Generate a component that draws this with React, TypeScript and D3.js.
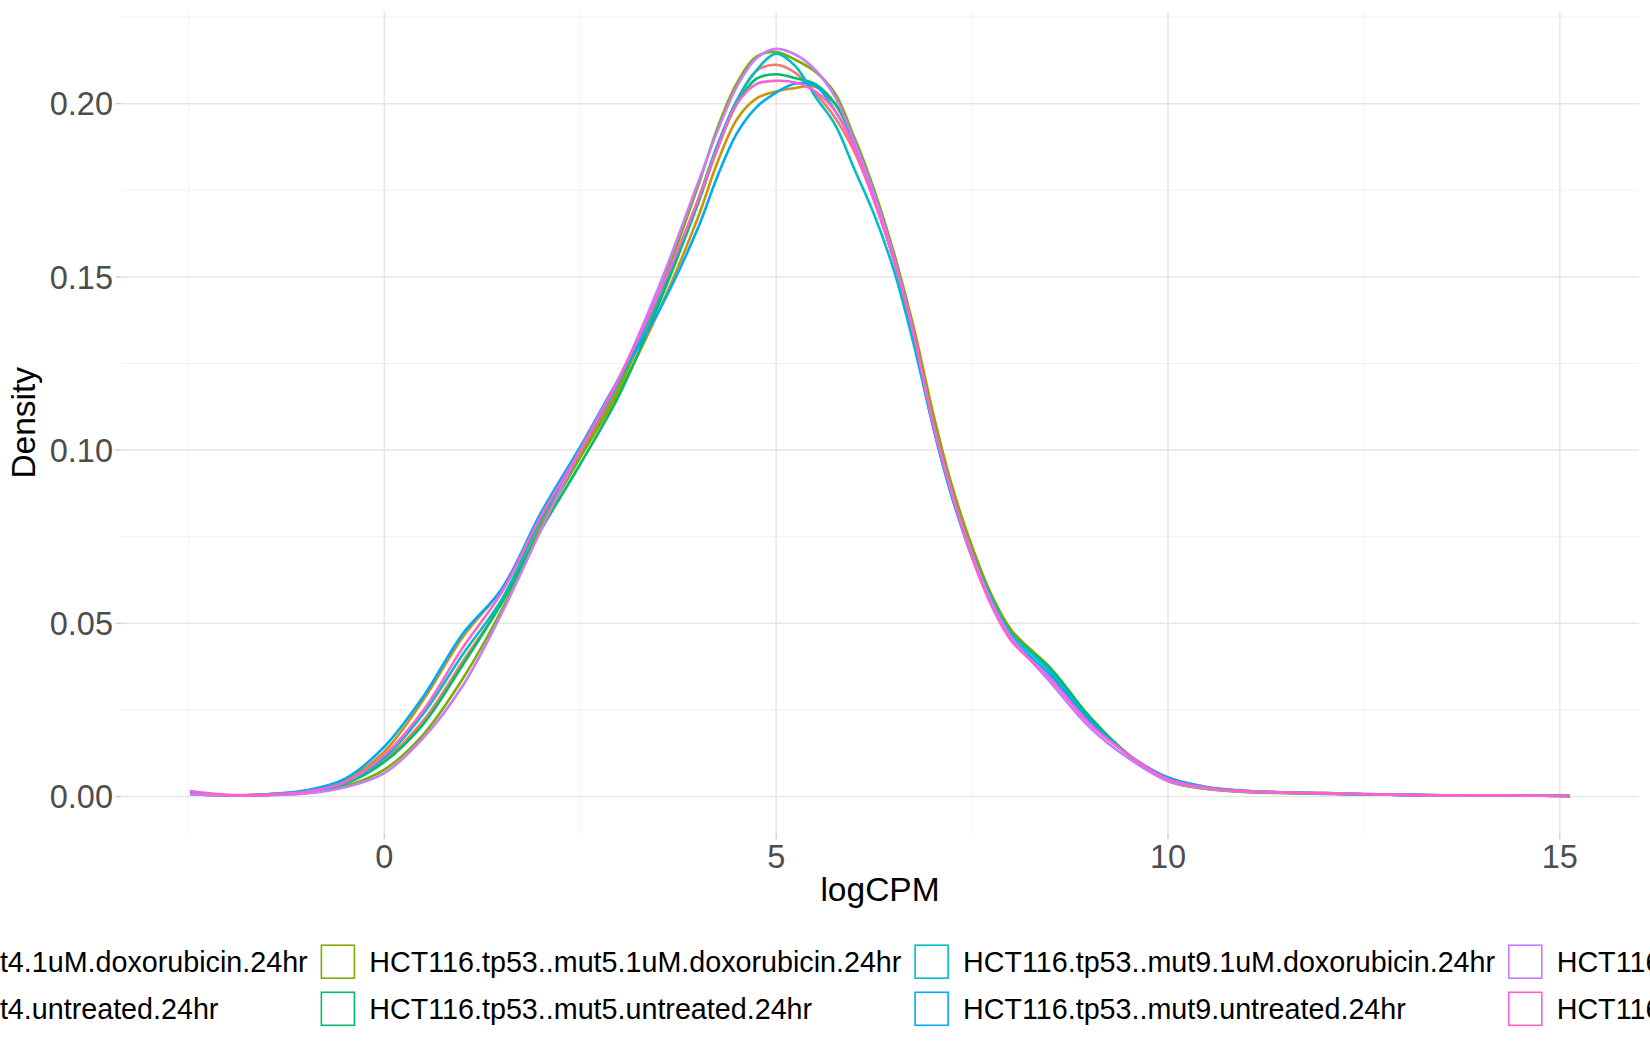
import React, { useEffect } from "react";
import * as d3 from "d3";

// ---------- data ----------
const X_GRID = [-2.48, -2, -1.5, -1, -0.5, 0, 0.5, 1, 1.5, 2, 2.5, 3, 3.5, 4, 4.25, 4.5, 4.75, 5, 5.25, 5.5, 5.75, 6, 6.25, 6.5, 6.75, 7, 7.25, 7.5, 7.75, 8, 8.5, 9, 9.5, 10, 10.5, 11, 11.5, 12, 12.5, 13, 13.5, 14, 14.5, 15.13];

const SERIES_NAMES = [
  "HCT116.tp53..mut4.1uM.doxorubicin.24hr",
  "HCT116.tp53..mut4.untreated.24hr",
  "HCT116.tp53..mut5.1uM.doxorubicin.24hr",
  "HCT116.tp53..mut5.untreated.24hr",
  "HCT116.tp53..mut9.1uM.doxorubicin.24hr",
  "HCT116.tp53..mut9.untreated.24hr",
  "HCT116.tp53..wt.1uM.doxorubicin.24hr",
  "HCT116.tp53..wt.untreated.24hr",
];

const SERIES_COLORS = ["#F8766D", "#CD9600", "#7CAE00", "#00BE67", "#00BFC4", "#00A9FF", "#C77CFF", "#FF61CC"];

const MUT4_DOX = [0.0008, 0.0003, 0.0005, 0.0013, 0.0038, 0.0105,
  0.022, 0.039, 0.056, 0.079, 0.099, 0.119, 0.143, 0.172,
  0.188, 0.201, 0.2095, 0.2112, 0.2088, 0.2030, 0.196, 0.186,
  0.172, 0.155, 0.134, 0.110, 0.089, 0.072, 0.058, 0.048,
  0.036, 0.022, 0.012, 0.0055,
  0.0028, 0.0017, 0.0012, 0.0010, 0.0007, 0.0005, 0.0003, 0.0004, 0.0003, 0.0002];

const MUT4_UNT = [0.0010, 0.0004, 0.0007, 0.0017, 0.0048, 0.0130,
  0.028, 0.046, 0.060, 0.080, 0.098, 0.117, 0.140, 0.167,
  0.183, 0.1955, 0.2015, 0.2035, 0.2045, 0.2049, 0.200, 0.190,
  0.175, 0.157, 0.136, 0.111, 0.089, 0.072, 0.058, 0.048,
  0.037, 0.023, 0.012, 0.0045,
  0.0022, 0.0014, 0.0011, 0.0009, 0.0007, 0.0005, 0.0004, 0.0004, 0.0003, 0.0002];

const MUT5_DOX = [0.0008, 0.0003, 0.0004, 0.0010, 0.0030, 0.0078,
  0.018, 0.034, 0.054, 0.078, 0.098, 0.118, 0.145, 0.176,
  0.193, 0.206, 0.2136, 0.2149, 0.2126, 0.2092, 0.203, 0.190,
  0.175, 0.157, 0.135, 0.110, 0.089, 0.072, 0.058, 0.048,
  0.037, 0.023, 0.012, 0.0045,
  0.0022, 0.0013, 0.0010, 0.0008, 0.0006, 0.0005, 0.0003, 0.0004, 0.0003, 0.0003];

const MUT5_UNT = [0.0009, 0.0004, 0.0005, 0.0013, 0.0037, 0.0100,
  0.021, 0.038, 0.056, 0.077, 0.096, 0.116, 0.142, 0.171,
  0.187, 0.200, 0.2072, 0.2085, 0.2073, 0.2056, 0.200, 0.189,
  0.174, 0.156, 0.134, 0.108, 0.087, 0.070, 0.057, 0.047,
  0.037, 0.023, 0.012, 0.005,
  0.0024, 0.0015, 0.0011, 0.0009, 0.0007, 0.0005, 0.0004, 0.0004, 0.0003, 0.0002];

const MUT9_DOX = [0.0010, 0.0004, 0.0006, 0.0014, 0.0040, 0.0112,
  0.024, 0.041, 0.057, 0.080, 0.100, 0.120, 0.144, 0.172,
  0.188, 0.201, 0.2097, 0.2144, 0.2107, 0.2020, 0.194, 0.181,
  0.168, 0.152, 0.131, 0.107, 0.086, 0.070, 0.057, 0.047,
  0.036, 0.022, 0.012, 0.005,
  0.0026, 0.0016, 0.0012, 0.0010, 0.0007, 0.0005, 0.0004, 0.0003, 0.0003, 0.0002];

const MUT9_UNT = [0.0010, 0.0004, 0.0007, 0.0018, 0.0052, 0.0144,
  0.029, 0.047, 0.060, 0.082, 0.101, 0.121, 0.140, 0.164,
  0.179, 0.1915, 0.1990, 0.2032, 0.2058, 0.2052, 0.198, 0.188,
  0.173, 0.155, 0.133, 0.107, 0.086, 0.069, 0.056, 0.046,
  0.035, 0.022, 0.012, 0.0055,
  0.0027, 0.0016, 0.0012, 0.0009, 0.0007, 0.0005, 0.0003, 0.0003, 0.0003, 0.0002];

const WT_DOX = [0.0007, 0.0003, 0.0004, 0.0009, 0.0027, 0.0068,
  0.017, 0.032, 0.053, 0.077, 0.100, 0.121, 0.147, 0.177,
  0.192, 0.205, 0.2131, 0.2158, 0.2141, 0.2097, 0.202, 0.189,
  0.174, 0.156, 0.134, 0.108, 0.087, 0.070, 0.056, 0.046,
  0.033, 0.020, 0.011, 0.0045,
  0.0023, 0.0014, 0.0011, 0.0009, 0.0007, 0.0005, 0.0003, 0.0004, 0.0003, 0.0002];

const WT_UNT = [0.0016, 0.0005, 0.0006, 0.0014, 0.0042, 0.0120,
  0.025, 0.043, 0.059, 0.081, 0.100, 0.121, 0.145, 0.172,
  0.187, 0.200, 0.2057, 0.2066, 0.2061, 0.2035, 0.198, 0.187,
  0.172, 0.155, 0.134, 0.108, 0.087, 0.069, 0.055, 0.045,
  0.034, 0.021, 0.012, 0.005,
  0.0025, 0.0016, 0.0012, 0.0010, 0.0008, 0.0005, 0.0004, 0.0004, 0.0003, 0.0002];

const SERIES_VALUES = [MUT4_DOX, MUT4_UNT, MUT5_DOX, MUT5_UNT, MUT9_DOX, MUT9_UNT, WT_DOX, WT_UNT];

const X_TICKS = [0, 5, 10, 15];
const X_MINOR = [-2.5, 2.5, 7.5, 12.5];
const Y_TICKS = [0, 0.05, 0.1, 0.15, 0.2];
const Y_MINOR = [0.025, 0.075, 0.125, 0.175, 0.225];
const Y_LABELS = ["0.00", "0.05", "0.10", "0.15", "0.20"];

// ---------- layout ----------
const W = 1650;
const H = 1050;
const PANEL = { left: 121, right: 1639, top: 11.5, bottom: 834 };
const FONT = "'Liberation Sans', Arial, Helvetica, sans-serif";

function expand(ext: [number, number], f = 0.05): [number, number] {
  const r = ext[1] - ext[0];
  return [ext[0] - r * f, ext[1] + r * f];
}

export default function App() {
  useEffect(() => {
    document.body.style.margin = "0";
    document.body.style.overflow = "hidden";
  }, []);

  const allY = SERIES_VALUES.flat();
  const xExt = d3.extent(X_GRID) as [number, number];
  const yExt: [number, number] = [0, d3.max(allY) as number];

  const x = d3.scaleLinear().domain(expand(xExt)).range([PANEL.left, PANEL.right]);
  const y = d3.scaleLinear().domain(expand(yExt)).range([PANEL.bottom, PANEL.top]);

  const line = d3
    .line<number>()
    .x((_, i) => x(X_GRID[i]))
    .y((d) => y(d))
    .curve(d3.curveCatmullRom.alpha(0.5));

  // legend layout: 4 columns x 2 rows, filled column-wise
  const legendLeft = -273;
  const colPitch = 593.7;
  const rowCenters = [961.7, 1008.8];
  const keySize = 33;

  return (
    <svg width={W} height={H} style={{ display: "block", background: "#fff" }} fontFamily={FONT}>
      {/* minor grid */}
      {X_MINOR.map((v) => (
        <line key={"xm" + v} x1={x(v)} x2={x(v)} y1={PANEL.top} y2={PANEL.bottom} stroke="#EFEFEF" strokeWidth={0.9} />
      ))}
      {Y_MINOR.map((v) => (
        <line key={"ym" + v} x1={PANEL.left} x2={PANEL.right} y1={y(v)} y2={y(v)} stroke="#EFEFEF" strokeWidth={0.9} />
      ))}
      {/* major grid */}
      {X_TICKS.map((v) => (
        <line key={"xM" + v} x1={x(v)} x2={x(v)} y1={PANEL.top} y2={PANEL.bottom} stroke="#E6E6E6" strokeWidth={1.5} />
      ))}
      {Y_TICKS.map((v) => (
        <line key={"yM" + v} x1={PANEL.left} x2={PANEL.right} y1={y(v)} y2={y(v)} stroke="#E6E6E6" strokeWidth={1.5} />
      ))}

      {/* ticks */}
      {X_TICKS.map((v) => (
        <line key={"xt" + v} x1={x(v)} x2={x(v)} y1={PANEL.bottom} y2={PANEL.bottom + 5.5} stroke="#CFCFCF" strokeWidth={1.5} />
      ))}
      {Y_TICKS.map((v) => (
        <line key={"yt" + v} x1={PANEL.left - 5.5} x2={PANEL.left} y1={y(v)} y2={y(v)} stroke="#CFCFCF" strokeWidth={1.5} />
      ))}

      {/* curves */}
      <g fill="none" strokeWidth={2.6} strokeLinejoin="round" strokeLinecap="butt">
        {SERIES_VALUES.map((vals, i) => (
          <path key={SERIES_NAMES[i]} d={line(vals) || ""} stroke={SERIES_COLORS[i]} />
        ))}
      </g>

      {/* tick labels */}
      {X_TICKS.map((v) => (
        <text key={"xl" + v} x={x(v)} y={867.5} textAnchor="middle" fontSize={32.5} fill="#4D4D4D">
          {String(v)}
        </text>
      ))}
      {Y_TICKS.map((v, i) => (
        <text key={"yl" + v} x={113} y={y(v) + 11.7} textAnchor="end" fontSize={32.5} fill="#4D4D4D">
          {Y_LABELS[i]}
        </text>
      ))}

      {/* axis titles */}
      <text x={(PANEL.left + PANEL.right) / 2} y={901} textAnchor="middle" fontSize={33.5} fill="#000">
        logCPM
      </text>
      <text
        transform={`translate(35, ${(PANEL.top + PANEL.bottom) / 2}) rotate(-90)`}
        textAnchor="middle"
        fontSize={33.5}
        fill="#000"
      >
        Density
      </text>

      {/* legend */}
      {SERIES_NAMES.map((name, i) => {
        const col = Math.floor(i / 2);
        const row = i % 2;
        const kx = legendLeft + col * colPitch;
        const cy = rowCenters[row];
        return (
          <g key={"lg" + name}>
            <rect
              x={kx + 0.7}
              y={cy - keySize / 2}
              width={keySize}
              height={keySize}
              fill="none"
              stroke={SERIES_COLORS[i]}
              strokeWidth={1.6}
            />
            <text x={kx + 48.6} y={cy + 10} fontSize={28.7} fill="#000">
              {name}
            </text>
          </g>
        );
      })}
    </svg>
  );
}
